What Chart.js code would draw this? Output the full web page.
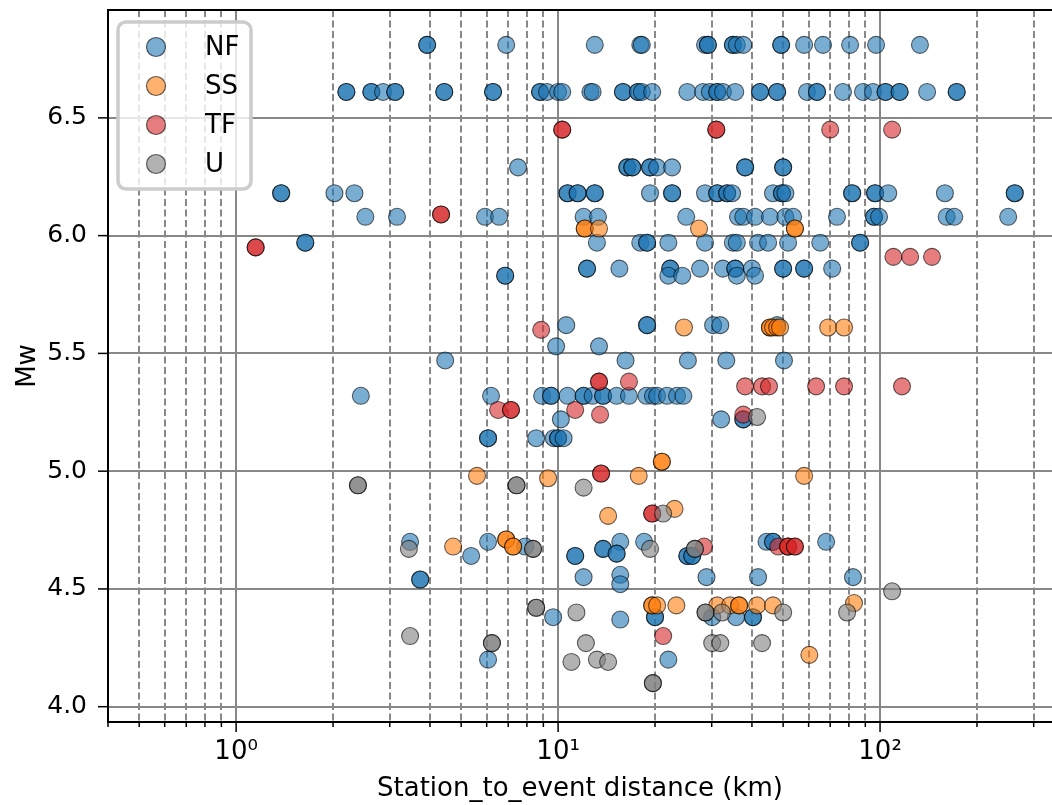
<!DOCTYPE html>
<html>
<head>
<meta charset="utf-8">
<script src="https://cdn.jsdelivr.net/npm/chart.js@4"></script>
<style>
  html, body { margin: 0; padding: 0; background: #fff; overflow: hidden; }
  canvas { display: block; }
</style>
</head>
<body>
<canvas id="mwChart" width="1052" height="805"></canvas>
<script>
'use strict';

// [distance km, Mw]; repeated pairs are the darker (stacked) markers
const nfPoints = [
  [3.92, 6.81], [3.92, 6.81], [6.9, 6.81], [13.0, 6.81], [18.0, 6.81], [18.2, 6.81], [28.6, 6.81], [29.2, 6.81], [29.2, 6.81],
  [34.9, 6.81], [34.9, 6.81], [35.9, 6.81], [37.6, 6.81], [49.3, 6.81], [49.3, 6.81], [58.1, 6.81], [66.5, 6.81], [80.7, 6.81],
  [97.2, 6.81], [133, 6.81],
  [2.20, 6.61], [2.20, 6.61], [2.63, 6.61], [2.63, 6.61], [2.86, 6.61], [3.12, 6.61], [3.12, 6.61], [4.43, 6.61], [4.43, 6.61],
  [6.28, 6.61], [6.28, 6.61], [8.79, 6.61], [8.79, 6.61], [9.24, 6.61], [10.0, 6.61], [10.3, 6.61], [12.6, 6.61], [12.8, 6.61],
  [15.9, 6.61], [15.9, 6.61], [17.7, 6.61], [17.7, 6.61], [18.2, 6.61], [19.6, 6.61], [25.2, 6.61], [28.2, 6.61], [29.6, 6.61],
  [31.2, 6.61], [31.2, 6.61], [32.5, 6.61], [35.5, 6.61], [42.4, 6.61], [42.4, 6.61], [47.9, 6.61], [47.9, 6.61], [59.3, 6.61],
  [63.7, 6.61], [63.7, 6.61], [76.7, 6.61], [88.5, 6.61], [95.1, 6.61], [104, 6.61], [104, 6.61], [115, 6.61], [115, 6.61],
  [140, 6.61], [173, 6.61], [173, 6.61],
  [7.51, 6.29], [16.4, 6.29], [16.4, 6.29], [17.0, 6.29], [17.0, 6.29], [19.3, 6.29], [19.3, 6.29], [20.3, 6.29], [22.6, 6.29],
  [38.1, 6.29], [38.1, 6.29], [50.0, 6.29], [50.0, 6.29],
  [1.38, 6.18], [1.38, 6.18], [2.02, 6.18], [2.33, 6.18], [10.7, 6.18], [10.7, 6.18], [11.5, 6.18], [11.5, 6.18], [13.0, 6.18],
  [13.0, 6.18], [19.3, 6.18], [22.6, 6.18], [22.6, 6.18], [28.6, 6.18], [31.2, 6.18], [31.2, 6.18], [33.5, 6.18], [33.5, 6.18],
  [34.7, 6.18], [46.5, 6.18], [49.6, 6.18], [49.6, 6.18], [50.8, 6.18], [81.9, 6.18], [81.9, 6.18], [96.5, 6.18], [96.5, 6.18],
  [106, 6.18], [159, 6.18], [262, 6.18], [262, 6.18],
  [2.52, 6.08], [3.16, 6.08], [5.93, 6.08], [6.56, 6.08], [12.0, 6.08], [13.3, 6.08], [25.0, 6.08], [36.2, 6.08], [37.6, 6.08],
  [40.9, 6.08], [45.5, 6.08], [50.8, 6.08], [53.7, 6.08], [73.5, 6.08], [95.8, 6.08], [95.8, 6.08], [99.3, 6.08], [161, 6.08],
  [170, 6.08], [250, 6.08],
  [1.64, 5.97], [1.64, 5.97], [13.2, 5.97], [18.0, 5.97], [18.9, 5.97], [18.9, 5.97], [22.0, 5.97], [28.6, 5.97], [34.9, 5.97],
  [35.9, 5.97], [41.8, 5.97], [44.9, 5.97], [51.8, 5.97], [65.2, 5.97], [86.7, 5.97], [86.7, 5.97],
  [12.3, 5.86], [12.3, 5.86], [15.5, 5.86], [22.3, 5.86], [22.3, 5.86], [27.6, 5.86], [32.5, 5.86], [35.5, 5.86], [35.5, 5.86],
  [40.0, 5.86], [50.0, 5.86], [50.0, 5.86], [58.1, 5.86], [58.1, 5.86], [71.0, 5.86],
  [6.85, 5.83], [6.85, 5.83], [22.0, 5.83], [24.3, 5.83], [35.9, 5.83], [40.9, 5.83],
  [10.6, 5.62], [18.9, 5.62], [18.9, 5.62], [30.3, 5.62], [31.9, 5.62], [47.9, 5.62],
  [9.86, 5.53], [13.4, 5.53],
  [4.46, 5.47], [16.2, 5.47], [25.3, 5.47], [33.3, 5.47], [50.3, 5.47],
  [2.44, 5.32], [6.19, 5.32], [8.92, 5.32], [9.51, 5.32], [9.51, 5.32], [10.7, 5.32], [12.0, 5.32], [12.0, 5.32], [12.8, 5.32],
  [13.8, 5.32], [13.8, 5.32], [15.2, 5.32], [16.6, 5.32], [18.8, 5.32], [19.7, 5.32], [20.3, 5.32], [21.8, 5.32], [23.4, 5.32],
  [24.5, 5.32],
  [10.2, 5.22], [32.1, 5.22], [37.6, 5.22], [37.6, 5.22],
  [6.06, 5.14], [6.06, 5.14], [8.55, 5.14], [9.7, 5.14], [10.0, 5.14], [10.0, 5.14], [10.4, 5.14],
  [3.47, 4.70], [6.06, 4.70], [15.6, 4.70], [18.5, 4.70], [44.4, 4.70], [46.5, 4.70], [46.5, 4.70], [68.0, 4.70],
  [7.90, 4.68], [13.8, 4.67], [13.8, 4.67], [15.2, 4.65], [15.2, 4.65],
  [5.37, 4.64], [11.3, 4.64], [11.3, 4.64], [25.2, 4.64], [25.2, 4.64], [26.1, 4.64], [26.1, 4.64],
  [15.6, 4.56], [12.0, 4.55], [28.9, 4.55], [41.8, 4.55], [82.4, 4.55], [3.73, 4.54], [3.73, 4.54], [15.6, 4.52],
  [9.65, 4.38], [20.0, 4.38], [20.0, 4.38], [30.1, 4.38], [35.7, 4.38], [40.3, 4.38], [40.3, 4.38], [15.6, 4.37],
  [6.06, 4.20], [22.0, 4.20]
];

const ssPoints = [
  [12.1, 6.03], [12.1, 6.03], [13.4, 6.03], [27.4, 6.03], [54.4, 6.03], [54.4, 6.03],
  [24.6, 5.61], [45.5, 5.61], [45.5, 5.61], [46.5, 5.61], [47.9, 5.61], [48.9, 5.61], [69.0, 5.61], [77.3, 5.61],
  [21.0, 5.04], [21.0, 5.04],
  [5.60, 4.98], [17.8, 4.98], [58.1, 4.98], [9.31, 4.97],
  [23.0, 4.84], [14.3, 4.81],
  [6.9, 4.71], [6.9, 4.71], [4.72, 4.68], [7.25, 4.68], [7.25, 4.68], [51.8, 4.68],
  [19.6, 4.43], [19.6, 4.43], [20.3, 4.43], [23.3, 4.43], [31.2, 4.43], [34.2, 4.43], [36.5, 4.43], [36.5, 4.43],
  [41.5, 4.43], [46.5, 4.43], [83.0, 4.44],
  [60.3, 4.22]
];

const tfPoints = [
  [10.3, 6.45], [10.3, 6.45], [31.0, 6.45], [31.0, 6.45], [70.0, 6.45], [109, 6.45],
  [4.33, 6.09], [4.33, 6.09], [1.15, 5.95], [1.15, 5.95],
  [110, 5.91], [124, 5.91], [145, 5.91],
  [8.86, 5.60],
  [13.4, 5.38], [13.4, 5.38], [16.6, 5.38],
  [38.1, 5.36], [43.0, 5.36], [45.2, 5.36], [63.3, 5.36], [77.3, 5.36], [117, 5.36],
  [6.51, 5.26], [7.14, 5.26], [7.14, 5.26], [11.3, 5.26],
  [13.5, 5.24], [37.6, 5.24],
  [13.6, 4.99], [13.6, 4.99],
  [19.6, 4.82], [19.6, 4.82],
  [28.4, 4.68], [48.3, 4.68], [51.8, 4.68], [51.8, 4.68], [54.4, 4.68], [54.4, 4.68],
  [21.2, 4.30]
];

const uPoints = [
  [41.5, 5.23],
  [2.39, 4.94], [2.39, 4.94], [7.43, 4.94], [7.43, 4.94], [12.0, 4.93],
  [21.2, 4.82],
  [3.44, 4.67], [8.36, 4.67], [8.36, 4.67], [19.3, 4.67], [26.6, 4.67], [26.6, 4.67],
  [109, 4.49],
  [8.55, 4.42], [8.55, 4.42],
  [11.4, 4.40], [28.7, 4.40], [28.7, 4.40], [32.3, 4.40], [50.0, 4.40], [79.0, 4.40],
  [3.47, 4.30],
  [6.23, 4.27], [6.23, 4.27], [12.2, 4.27], [30.1, 4.27], [31.9, 4.27], [43.0, 4.27],
  [13.2, 4.20], [11.0, 4.19], [14.3, 4.19],
  [19.7, 4.10], [19.7, 4.10]
];

const classNames = ['NF', 'SS', 'TF', 'U'];
const yTicks = [4.0, 4.5, 5.0, 5.5, 6.0, 6.5];
const xTicks = [0.4, 0.5, 0.6, 0.7, 0.8, 0.9, 1, 2, 3, 4, 5, 6, 7, 8, 9,
  10, 20, 30, 40, 50, 60, 70, 80, 90, 100, 200, 300];
const xTickLabels = { 1: '10\u2070', 10: '10\u00b9', 100: '10\u00b2' };

const fills = ['rgba(31,119,180,0.6)', 'rgba(255,127,14,0.6)', 'rgba(214,39,40,0.6)', 'rgba(127,127,127,0.6)'];
const edge = 'rgba(0,0,0,0.6)';
const gridGray = '#888888';
const font = 'DejaVu Sans';

function toXY(list) {
  return list.map(p => ({ x: p[0], y: p[1] }));
}

// top spine, tick marks and the framed legend
const framePlugin = {
  id: 'frame',
  afterDraw(chart) {
    const { ctx, chartArea: a, scales } = chart;
    ctx.save();
    ctx.strokeStyle = '#000';
    ctx.lineWidth = 2;
    ctx.beginPath();
    ctx.moveTo(a.left, a.top);
    ctx.lineTo(a.right, a.top);
    ctx.stroke();

    ctx.lineWidth = 1.5;
    scales.x.ticks.forEach(t => {
      const px = scales.x.getPixelForValue(t.value);
      ctx.beginPath();
      ctx.moveTo(px, a.bottom);
      ctx.lineTo(px, a.bottom + (t.major ? 10 : 5));
      ctx.stroke();
    });
    scales.y.ticks.forEach(t => {
      const py = scales.y.getPixelForValue(t.value);
      ctx.beginPath();
      ctx.moveTo(a.left - 10, py);
      ctx.lineTo(a.left, py);
      ctx.stroke();
    });

    // legend box
    const bx = 118, by = 22, bw = 133, bh = 167, r = 8;
    ctx.beginPath();
    ctx.moveTo(bx + r, by);
    ctx.arcTo(bx + bw, by, bx + bw, by + bh, r);
    ctx.arcTo(bx + bw, by + bh, bx, by + bh, r);
    ctx.arcTo(bx, by + bh, bx, by, r);
    ctx.arcTo(bx, by, bx + bw, by, r);
    ctx.closePath();
    ctx.fillStyle = 'rgba(255,255,255,0.8)';
    ctx.fill();
    ctx.strokeStyle = '#cccccc';
    ctx.lineWidth = 3.5;
    ctx.stroke();

    ctx.font = '26px "' + font + '"';
    ctx.textBaseline = 'middle';
    ctx.textAlign = 'left';
    chart.data.datasets.forEach((ds, i) => {
      const cy = 47 + i * 39;
      ctx.beginPath();
      ctx.arc(156, cy, 9.5, 0, Math.PI * 2);
      ctx.fillStyle = ds.backgroundColor;
      ctx.fill();
      ctx.lineWidth = 1.2;
      ctx.strokeStyle = edge;
      ctx.stroke();
      ctx.fillStyle = '#000';
      ctx.fillText(ds.label, 205, cy + 1);
    });
    ctx.restore();
  }
};

const datasets = [nfPoints, ssPoints, tfPoints, uPoints].map((pts, i) => ({
  label: classNames[i],
  data: toXY(pts),
  backgroundColor: fills[i],
  borderColor: edge,
  borderWidth: 1.1,
  pointRadius: 8.5,
  order: 4 - i
}));

const isMajor = v => v === 1 || v === 10 || v === 100;

const ctx = document.getElementById('mwChart').getContext('2d');
const myChart = new Chart(ctx, {
  type: 'scatter',
  data: { datasets: datasets },
  options: {
    responsive: false,
    animation: false,
    layout: { autoPadding: false, padding: { top: 10, right: 0, bottom: 0, left: 0 } },
    plugins: {
      legend: { display: false },
      tooltip: { enabled: false }
    },
    scales: {
      x: {
        type: 'logarithmic',
        min: 0.4,
        max: 342,
        bounds: 'data',
        afterBuildTicks: scale => {
          scale.ticks = xTicks.map(v => ({ value: v, major: isMajor(v) }));
        },
        afterFit: scale => {
          scale.height = 83;
          scale.paddingLeft = 0;
          scale.paddingRight = 0;
        },
        ticks: {
          autoSkip: false,
          maxRotation: 0,
          padding: 15,
          color: '#000',
          font: { family: font, size: 26 },
          callback: value => xTickLabels[value] || ''
        },
        grid: {
          drawTicks: false,
          color: gridGray,
          lineWidth: 2
        },
        border: {
          color: '#000',
          width: 2,
          dash: c => (c.tick && !isMajor(c.tick.value)) ? [7, 3.5] : []
        },
        title: {
          display: true,
          text: 'Station_to_event distance (km)',
          color: '#000',
          font: { family: font, size: 26 },
          padding: { top: 0, bottom: 0 }
        }
      },
      y: {
        min: 3.935,
        max: 6.958,
        bounds: 'data',
        afterBuildTicks: scale => {
          scale.ticks = yTicks.map(v => ({ value: v }));
        },
        afterFit: scale => {
          scale.width = 108;
          scale.paddingTop = 0;
          scale.paddingBottom = 0;
        },
        ticks: {
          padding: 21,
          color: '#000',
          font: { family: font, size: 25 },
          callback: value => Number(value).toFixed(1)
        },
        grid: {
          drawTicks: false,
          color: gridGray,
          lineWidth: 2
        },
        border: { color: '#000', width: 2 },
        title: {
          display: true,
          text: 'Mw',
          color: '#000',
          font: { family: font, size: 26 },
          padding: { top: 13, bottom: 0 }
        }
      }
    }
  },
  plugins: [framePlugin]
});
</script>
</body>
</html>
